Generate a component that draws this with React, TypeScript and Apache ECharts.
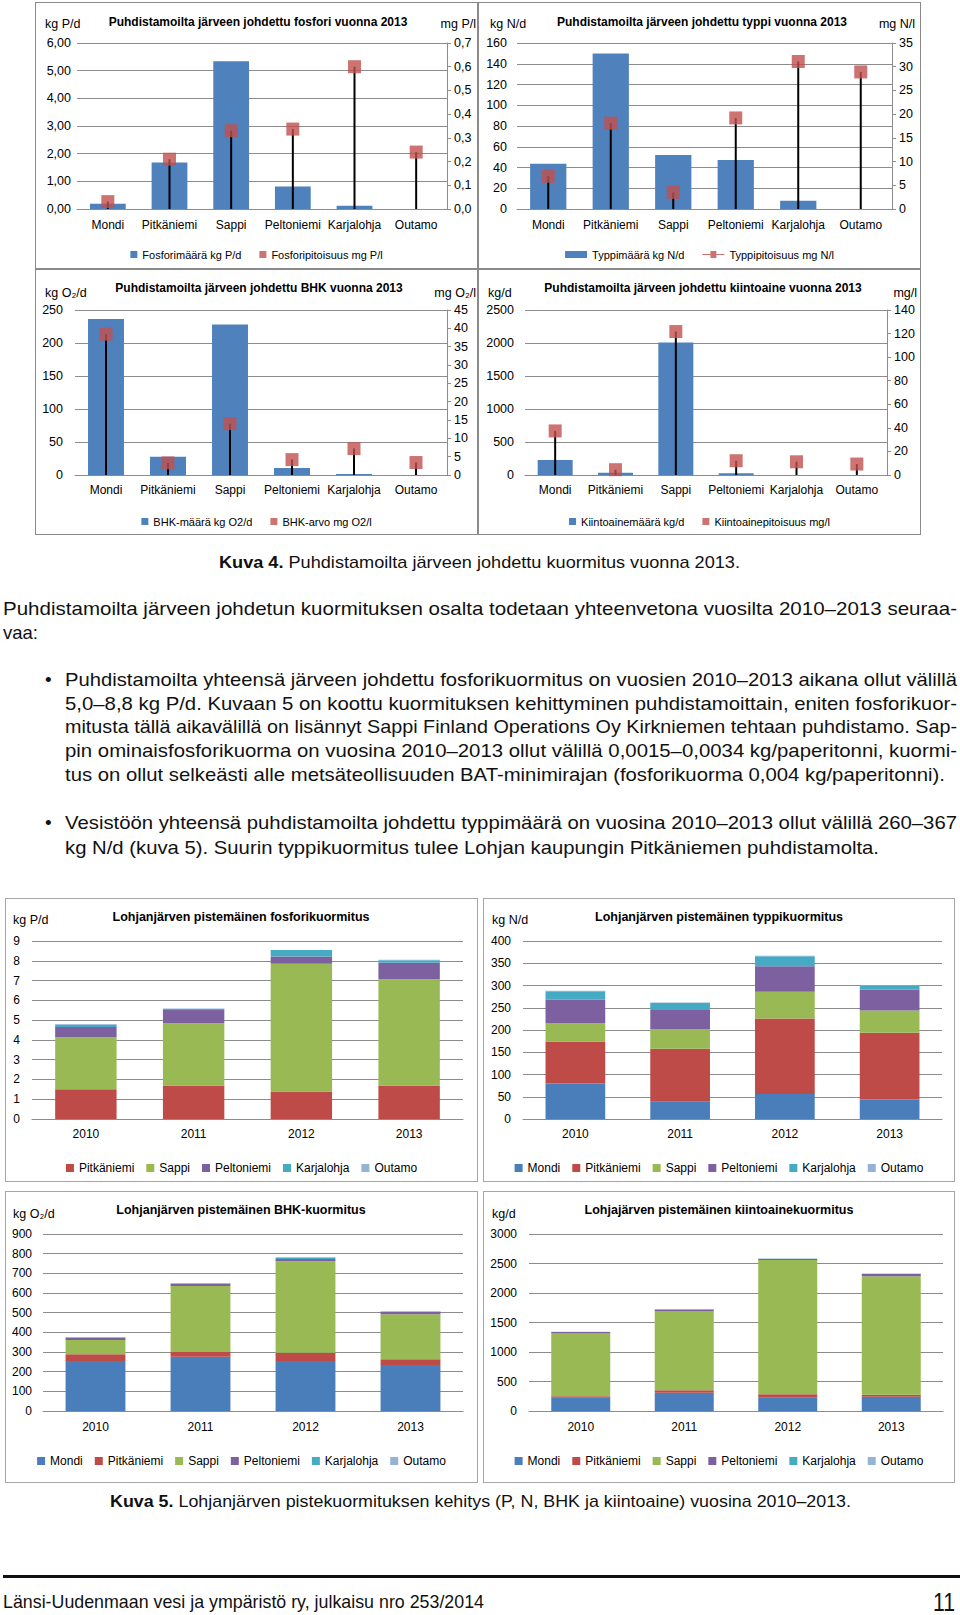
import React, { useEffect, useRef } from 'react';
import * as echarts from 'echarts';

const FONT = "'Liberation Sans', Arial, sans-serif";

// ---------- Kuva 4 data ----------
const plants = ['Mondi', 'Pitkäniemi', 'Sappi', 'Peltoniemi', 'Karjalohja', 'Outamo'];
const pLoad = [0.19, 1.68, 5.34, 0.81, 0.12, 0];
const pConc = [0.031, 0.21, 0.33, 0.337, 0.6, 0.24];
const nLoad = [43.5, 150, 52, 47.3, 8, 0];
const nConc = [6.9, 18.1, 3.5, 19.2, 31.1, 28.9];
const bodLoad = [236.5, 27.6, 228, 10.5, 1.5, 0];
const bodConc = [38.4, 3.3, 14, 4.2, 7.2, 3.4];
const ssLoad = [226, 35, 2008, 25, 0, 0];
const ssConc = [37.4, 4.5, 121.7, 12.1, 11.2, 9.3];

// ---------- Kuva 5 data ----------
const years = ['2010', '2011', '2012', '2013'];
const P_pitk = [1.5, 1.69, 1.39, 1.69];
const P_sappi = [2.63, 3.17, 6.46, 5.37];
const P_pelt = [0.52, 0.69, 0.36, 0.84];
const P_karj = [0.12, 0.03, 0.33, 0.13];
const P_outa = [0.03, 0.01, 0.01, 0.02];

const N_mondi = [80, 39, 56, 44];
const N_pitk = [94, 119, 170, 150];
const N_sappi = [42, 44, 60, 50];
const N_pelt = [52, 43, 57, 47];
const N_karj = [19, 16, 23, 9];
const N_outa = [1, 1, 1, 1];

const B_mondi = [254, 276, 254, 234];
const B_pitk = [34, 24, 42, 29];
const B_sappi = [73, 335, 465, 229];
const B_pelt = [12, 12, 12, 12];
const B_karj = [2, 2, 8, 2];
const B_outa = [1, 1, 1, 1];

const S_mondi = [226, 310, 226, 243];
const S_pitk = [22, 40, 56, 33];
const S_sappi = [1066, 1336, 2279, 2008];
const S_pelt = [23, 34, 17, 40];
const S_karj = [4, 4, 4, 4];
const S_outa = [2, 2, 2, 2];

const BLUE = '#4F81BD';
const RED = '#C0504D';
const COLORS: Record<string, string> = {
  Mondi: '#4A7EBB',
  'Pitkäniemi': '#BE4B48',
  Sappi: '#98B954',
  Peltoniemi: '#7D60A0',
  Karjalohja: '#46AAC5',
  Outamo: '#95B3D7',
};
const GRID = '#8C8C8C';

const fmtN = (d: number) => (v: number) => Number(v).toFixed(d).replace('.', ',');

const gText = (x: number, y: number, text: string, o: any = {}) => ({
  type: 'text',
  x,
  y,
  silent: true,
  style: {
    text,
    fill: '#000',
    fontFamily: FONT,
    fontSize: o.size ?? 12.5,
    fontWeight: o.bold ? 'bold' : 'normal',
    textAlign: o.align ?? 'left',
    textVerticalAlign: 'middle',
  },
});

function dualOption(c: any) {
  return {
    animation: false,
    textStyle: { fontFamily: FONT },
    grid: { left: c.grid[0], right: c.grid[1], top: c.grid[2], bottom: c.grid[3], containLabel: false },
    xAxis: [
      {
        type: 'category',
        data: plants,
        axisLine: { lineStyle: { color: GRID } },
        axisTick: { show: false },
        axisLabel: { color: '#000', fontSize: 12, margin: c.xMargin ?? 10, interval: 0, fontFamily: FONT },
      },
      { type: 'category', data: plants, show: false },
    ],
    yAxis: [
      {
        type: 'value',
        min: 0,
        max: c.lMax,
        interval: c.lInt,
        axisLine: { show: false },
        axisTick: { show: false },
        splitLine: { lineStyle: { color: GRID } },
        axisLabel: { color: '#000', fontSize: 12.5, margin: c.lMargin, formatter: c.lFmt, fontFamily: FONT },
      },
      {
        type: 'value',
        position: 'right',
        min: 0,
        max: c.rMax,
        interval: c.rInt,
        axisLine: { show: true, lineStyle: { color: GRID } },
        axisTick: { show: true, length: 4, lineStyle: { color: GRID } },
        splitLine: { show: false },
        axisLabel: { color: '#000', fontSize: 12.5, margin: 7, formatter: c.rFmt, fontFamily: FONT },
      },
    ],
    legend: {
      left: 'center',
      top: c.legendTop,
      itemWidth: c.legendIconW ?? 7,
      itemHeight: 7,
      itemGap: 18,
      textStyle: { fontSize: 11, color: '#000', fontFamily: FONT },
      data: [
        { name: c.names[0], icon: 'rect' },
        { name: c.names[1], icon: c.lineIcon ? 'path://M0,3L8,3L8,0L14,0L14,3L22,3L22,4L14,4L14,7L8,7L8,4L0,4Z' : 'rect' },
      ],
    },
    series: [
      { name: c.names[0], type: 'bar', data: c.bars, barWidth: '58%', itemStyle: { color: BLUE }, z: 2 },
      { type: 'bar', xAxisIndex: 1, yAxisIndex: 1, data: c.conc, barWidth: 2, itemStyle: { color: '#000' }, z: 3, silent: true },
      {
        name: c.names[1],
        type: 'scatter',
        xAxisIndex: 1,
        yAxisIndex: 1,
        data: c.conc,
        symbol: 'rect',
        symbolSize: 13,
        itemStyle: { color: RED },
        z: 4,
      },
    ],
    graphic: [
      gText(c.titleX, c.titleY, c.title, { bold: true, size: 12, align: 'center' }),
      gText(c.uLX, c.uY, c.uL, { size: 12.5 }),
      gText(c.uRX, c.uY, c.uR, { size: 12.5, align: 'right' }),
    ],
  };
}

function stackOption(c: any) {
  return {
    animation: false,
    textStyle: { fontFamily: FONT },
    grid: { left: c.grid[0], right: c.grid[1], top: c.grid[2], bottom: c.grid[3], containLabel: false },
    xAxis: {
      type: 'category',
      data: years,
      axisLine: { lineStyle: { color: GRID } },
      axisTick: { show: false },
      axisLabel: { color: '#000', fontSize: 12, margin: c.xMargin ?? 10, fontFamily: FONT },
    },
    yAxis: {
      type: 'value',
      min: 0,
      max: c.max,
      interval: c.int,
      axisLine: { show: false },
      axisTick: { show: false },
      splitLine: { lineStyle: { color: GRID } },
      axisLabel: {
        color: '#000',
        fontSize: 12,
        margin: c.yMargin ?? 12,
        fontFamily: FONT,
        formatter: (v: number) => String(v),
      },
    },
    legend: {
      left: 'center',
      top: c.legendTop,
      itemWidth: 8,
      itemHeight: 8,
      itemGap: 12,
      icon: 'rect',
      textStyle: { fontSize: 12, color: '#000', fontFamily: FONT },
    },
    series: c.series.map((s: any) => ({
      name: s.name,
      type: 'bar',
      stack: 'total',
      data: s.data,
      barWidth: '57%',
      itemStyle: { color: COLORS[s.name] },
    })),
    graphic: [
      gText(c.titleX, c.titleY, c.title, { bold: true, size: 12.5, align: 'center' }),
      gText(c.uX, c.uY, c.unit, { size: 12.5 }),
    ],
  };
}

function Chart({ box, option }: { box: any; option: any }) {
  const ref = useRef<HTMLDivElement>(null);
  useEffect(() => {
    const inst = echarts.init(ref.current as HTMLDivElement, null, { renderer: 'svg' });
    inst.setOption(option);
    return () => inst.dispose();
  }, []);
  return (
    <>
      <div ref={ref} style={{ position: 'absolute', left: box.x, top: box.y, width: box.w, height: box.h }} />
      <div
        style={{
          position: 'absolute',
          left: box.x,
          top: box.y,
          width: box.w,
          height: box.h,
          boxSizing: 'border-box',
          border: `1px solid ${box.border ?? '#8A8A8A'}`,
          pointerEvents: 'none',
        }}
      />
    </>
  );
}

const B1 = { x: 35, y: 2, w: 443, h: 267 };
const B2 = { x: 478, y: 2, w: 443, h: 267 };
const B3 = { x: 35, y: 269, w: 443, h: 266 };
const B4 = { x: 478, y: 269, w: 443, h: 266 };
const B5 = { x: 5, y: 898, w: 473, h: 284, border: '#A6A6A6' };
const B6 = { x: 483, y: 898, w: 472, h: 284, border: '#A6A6A6' };
const B7 = { x: 5, y: 1191, w: 473, h: 292, border: '#A6A6A6' };
const B8 = { x: 483, y: 1191, w: 472, h: 292, border: '#A6A6A6' };

const opt1 = dualOption({
  grid: [42, 31, 41, 60],
  lMax: 6, lInt: 1, lFmt: fmtN(2), lMargin: 6,
  rMax: 0.7, rInt: 0.1, rFmt: fmtN(1),
  bars: pLoad, conc: pConc,
  names: ['Fosforimäärä kg P/d', 'Fosforipitoisuus mg P/l'],
  legendTop: 242,
  title: 'Puhdistamoilta järveen johdettu fosfori vuonna 2013', titleX: 223, titleY: 20,
  uL: 'kg P/d', uR: 'mg P/l', uLX: 10, uRX: 441, uY: 22,
});
const opt2 = dualOption({
  grid: [39, 29, 41, 60],
  lMax: 160, lInt: 20, lFmt: fmtN(0), lMargin: 10,
  rMax: 35, rInt: 5, rFmt: fmtN(0),
  bars: nLoad, conc: nConc,
  names: ['Typpimäärä kg N/d', 'Typpipitoisuus mg N/l'],
  legendTop: 242, legendIconW: 22, lineIcon: true,
  title: 'Puhdistamoilta järveen johdettu typpi vuonna 2013', titleX: 224, titleY: 20,
  uL: 'kg N/d', uR: 'mg N/l', uLX: 12, uRX: 437, uY: 22,
});
const opt3 = dualOption({
  grid: [40, 31, 41, 60],
  lMax: 250, lInt: 50, lFmt: fmtN(0), lMargin: 12,
  rMax: 45, rInt: 5, rFmt: fmtN(0),
  bars: bodLoad, conc: bodConc, xMargin: 9,
  names: ['BHK-määrä kg O2/d', 'BHK-arvo mg O2/l'],
  legendTop: 242,
  title: 'Puhdistamoilta järveen johdettu BHK vuonna 2013', titleX: 224, titleY: 19,
  uL: 'kg O₂/d', uR: 'mg O₂/l', uLX: 10, uRX: 441, uY: 24,
});
const opt4 = dualOption({
  grid: [47, 34, 41, 60],
  lMax: 2500, lInt: 500, lFmt: fmtN(0), lMargin: 11,
  rMax: 140, rInt: 20, rFmt: fmtN(0),
  bars: ssLoad, conc: ssConc, xMargin: 9,
  names: ['Kiintoainemäärä kg/d', 'Kiintoainepitoisuus mg/l'],
  legendTop: 242,
  title: 'Puhdistamoilta järveen johdettu kiintoaine vuonna 2013', titleX: 225, titleY: 19,
  uL: 'kg/d', uR: 'mg/l', uLX: 10, uRX: 439, uY: 24,
});

const opt5 = stackOption({
  grid: [27, 15, 43, 63], max: 9, int: 1, yMargin: 12, xMargin: 9,
  legendTop: 259,
  title: 'Lohjanjärven pistemäinen fosforikuormitus', titleX: 236, titleY: 19,
  unit: 'kg P/d', uX: 8, uY: 22,
  series: [
    { name: 'Pitkäniemi', data: P_pitk },
    { name: 'Sappi', data: P_sappi },
    { name: 'Peltoniemi', data: P_pelt },
    { name: 'Karjalohja', data: P_karj },
    { name: 'Outamo', data: P_outa },
  ],
});
const opt6 = stackOption({
  grid: [40, 13, 43, 63], max: 400, int: 50, yMargin: 12, xMargin: 9,
  legendTop: 259,
  title: 'Lohjanjärven pistemäinen typpikuormitus', titleX: 236, titleY: 19,
  unit: 'kg N/d', uX: 9, uY: 22,
  series: [
    { name: 'Mondi', data: N_mondi },
    { name: 'Pitkäniemi', data: N_pitk },
    { name: 'Sappi', data: N_sappi },
    { name: 'Peltoniemi', data: N_pelt },
    { name: 'Karjalohja', data: N_karj },
    { name: 'Outamo', data: N_outa },
  ],
});
const opt7 = stackOption({
  grid: [38, 15, 43, 72], max: 900, int: 100, yMargin: 11, xMargin: 10,
  legendTop: 259,
  title: 'Lohjanjärven pistemäinen BHK-kuormitus', titleX: 236, titleY: 19,
  unit: 'kg O₂/d', uX: 8, uY: 23,
  series: [
    { name: 'Mondi', data: B_mondi },
    { name: 'Pitkäniemi', data: B_pitk },
    { name: 'Sappi', data: B_sappi },
    { name: 'Peltoniemi', data: B_pelt },
    { name: 'Karjalohja', data: B_karj },
    { name: 'Outamo', data: B_outa },
  ],
});
const opt8 = stackOption({
  grid: [46, 12, 43, 72], max: 3000, int: 500, yMargin: 12, xMargin: 10,
  legendTop: 259,
  title: 'Lohjajärven pistemäinen kiintoainekuormitus', titleX: 236, titleY: 19,
  unit: 'kg/d', uX: 9, uY: 23,
  series: [
    { name: 'Mondi', data: S_mondi },
    { name: 'Pitkäniemi', data: S_pitk },
    { name: 'Sappi', data: S_sappi },
    { name: 'Peltoniemi', data: S_pelt },
    { name: 'Karjalohja', data: S_karj },
    { name: 'Outamo', data: S_outa },
  ],
});

function T({ x, y, w, size, children }: any) {
  return (
    <text x={x} y={y} fontSize={size} fontFamily={FONT} textLength={w} lengthAdjust="spacingAndGlyphs" fill="#111">
      {children}
    </text>
  );
}

function PageText() {
  const S = 19;
  const o = 6.4;
  return (
    <svg
      width={960}
      height={1615}
      style={{ position: 'absolute', left: 0, top: 0, pointerEvents: 'none' }}
    >
      <T x={219} y={567.5} w={521} size={17}>
        <tspan fontWeight="bold">Kuva 4.</tspan> Puhdistamoilta järveen johdettu kuormitus vuonna 2013.
      </T>
      <T x={3} y={609 + o} w={954} size={S}>
        Puhdistamoilta järveen johdetun kuormituksen osalta todetaan yhteenvetona vuosilta 2010–2013 seuraa-
      </T>
      <T x={3} y={633 + o} w={35} size={S}>vaa:</T>

      <text x={45} y={680 + o} fontSize={S} fontFamily={FONT} fill="#111">•</text>
      <T x={65} y={680 + o} w={892} size={S}>
        Puhdistamoilta yhteensä järveen johdettu fosforikuormitus on vuosien 2010–2013 aikana ollut välillä
      </T>
      <T x={65} y={703.5 + o} w={892} size={S}>
        5,0–8,8 kg P/d. Kuvaan 5 on koottu kuormituksen kehittyminen puhdistamoittain, eniten fosforikuor-
      </T>
      <T x={65} y={727 + o} w={892} size={S}>
        mitusta tällä aikavälillä on lisännyt Sappi Finland Operations Oy Kirkniemen tehtaan puhdistamo. Sap-
      </T>
      <T x={65} y={751 + o} w={892} size={S}>
        pin ominaisfosforikuorma on vuosina 2010–2013 ollut välillä 0,0015–0,0034 kg/paperitonni, kuormi-
      </T>
      <T x={65} y={775 + o} w={880} size={S}>
        tus on ollut selkeästi alle metsäteollisuuden BAT-minimirajan (fosforikuorma 0,004 kg/paperitonni).
      </T>

      <text x={45} y={823 + o} fontSize={S} fontFamily={FONT} fill="#111">•</text>
      <T x={65} y={823 + o} w={892} size={S}>
        Vesistöön yhteensä puhdistamoilta johdettu typpimäärä on vuosina 2010–2013 ollut välillä 260–367
      </T>
      <T x={65} y={848 + o} w={814} size={S}>
        kg N/d (kuva 5). Suurin typpikuormitus tulee Lohjan kaupungin Pitkäniemen puhdistamolta.
      </T>

      <T x={110} y={1501 + 5.5} w={741} size={17}>
        <tspan fontWeight="bold">Kuva 5.</tspan> Lohjanjärven pistekuormituksen kehitys (P, N, BHK ja kiintoaine) vuosina 2010–2013.
      </T>

      <rect x={3} y={1575} width={957} height={3} fill="#111" />
      <T x={3} y={1602 + o} w={481} size={S}>
        Länsi-Uudenmaan vesi ja ympäristö ry, julkaisu nro 253/2014
      </T>
      <T x={933} y={1611} w={22} size={25}>11</T>
    </svg>
  );
}

export default function App() {
  return (
    <div
      style={{
        position: 'absolute',
        left: 0,
        top: 0,
        width: 960,
        height: 1615,
        background: '#fff',
        overflow: 'hidden',
      }}
    >
      <PageText />
      <Chart box={B1} option={opt1} />
      <Chart box={B2} option={opt2} />
      <Chart box={B3} option={opt3} />
      <Chart box={B4} option={opt4} />
      <Chart box={B5} option={opt5} />
      <Chart box={B6} option={opt6} />
      <Chart box={B7} option={opt7} />
      <Chart box={B8} option={opt8} />
    </div>
  );
}
